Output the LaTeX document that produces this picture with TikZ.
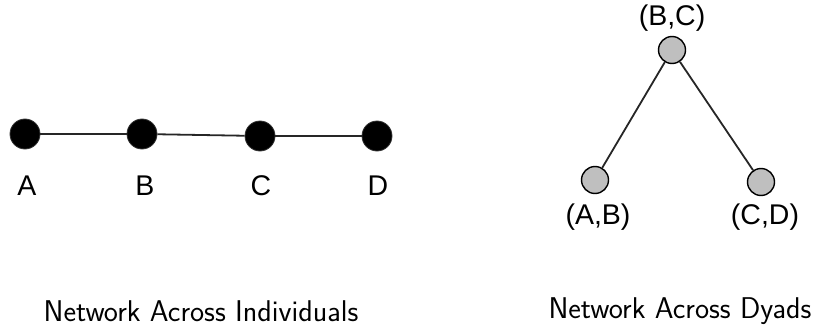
\documentclass[tikz,border=0pt]{standalone}
\usepackage{fontspec}
\setmainfont{Liberation Sans}
\begin{document}
\begin{tikzpicture}[x=1pt,y=-1pt,
  ind/.style={circle,fill=black,draw=black!80,line width=0.8pt,minimum size=30pt,inner sep=0pt},
  dyad/.style={circle,fill=black!25,draw=black,line width=1.4pt,minimum size=27pt,inner sep=0pt},
  lbl/.style={font=\fontsize{28.5}{30}\selectfont,inner sep=0pt},
  ttl/.style={font=\sffamily\fontsize{30}{34}\selectfont,inner sep=0pt},
  edge/.style={line width=1.8pt,draw=black!85}]
\useasboundingbox (0,0) rectangle (819,329);
\node[ind] (A) at (25,134) {};
\node[ind] (B) at (142,134) {};
\node[ind] (C) at (260,136) {};
\node[ind] (D) at (377,136) {};
\draw[edge] (A) -- (B);
\draw[edge] (B) -- (C);
\draw[edge] (C) -- (D);
\node[lbl] (lA) at (27,186) {A};
\node[lbl] (lB) at (145,186) {B};
\node[lbl] (lC) at (261,186) {C};
\node[lbl] (lD) at (378,186) {D};
\node[dyad] (BC) at (672,50) {};
\node[dyad] (AB) at (595,180) {};
\node[dyad] (CD) at (761,182) {};
\draw[edge] (BC) -- (AB);
\draw[edge] (BC) -- (CD);
\node[lbl] (lBC) at (672,18) {(B,C)};
\node[lbl] (lAB) at (598,217) {(A,B)};
\node[lbl] (lCD) at (765,217) {(C,D)};
\node[ttl] (t1) at (201,311) {Network Across Individuals};
\node[ttl] (t2) at (680,311) {Network Across Dyads};
\end{tikzpicture}
\end{document}
